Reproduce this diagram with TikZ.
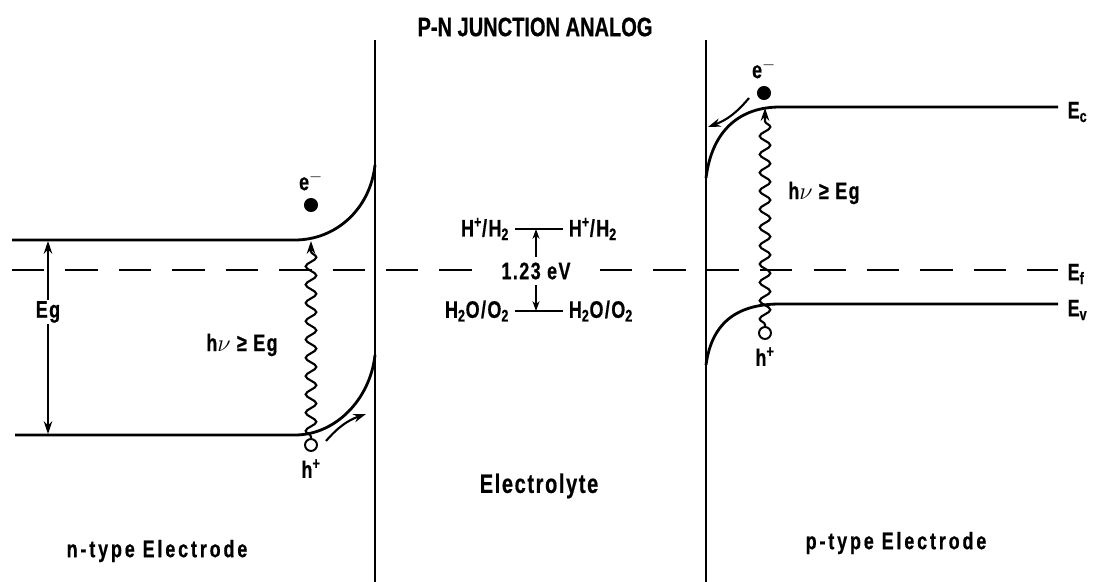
\documentclass[tikz,border=0pt]{standalone}
\usepackage{fontspec}
\setmainfont{Liberation Sans}[FakeStretch=0.75,LetterSpace=6,FakeBold=0.6]
\usepackage{tikz}
\usetikzlibrary{arrows.meta,decorations.pathmorphing,positioning}

\tikzset{
  band/.style={line width=2pt},
  wall/.style={line width=1.4pt},
  fermi/.style={line width=2pt, dash pattern=on 23pt off 15pt},
  level/.style={line width=1.6pt},
  photon/.style={line width=1.5pt, decorate,
    decoration={snake, amplitude=3.8pt, segment length=13pt, pre length=1pt, post length=7pt}},
  lbl/.style={font=\fontsize{17}{19}\selectfont\bfseries, inner sep=1pt},
  biglbl/.style={font=\fontsize{19}{21}\selectfont\bfseries, inner sep=1pt},
  tip/.style={-{Stealth[length=9pt,width=6pt]}},
  smalltip/.style={-{Stealth[length=7pt,width=5pt]}},
  elec/.style={circle, fill, inner sep=0pt, minimum size=10pt},
  hole/.style={circle, draw, line width=1.4pt, fill=white, inner sep=0pt, minimum size=8.5pt},
}

\begin{document}
\begin{tikzpicture}[x=0.025cm,y=-0.025cm]
  \useasboundingbox (0,0) rectangle (1110,582);

  \node[biglbl] (title) at (535,27) {\addfontfeatures{LetterSpace=0}P-N JUNCTION ANALOG};

  % electrode walls
  \coordinate (nwt) at (375,40);  \coordinate (nwb) at (375,582);
  \coordinate (pwt) at (706,40);  \coordinate (pwb) at (706,582);
  \draw[wall] (nwt) -- (nwb);
  \draw[wall] (pwt) -- (pwb);

  % fermi level
  \coordinate (efl) at (12,270);  \coordinate (efr) at (1058,270);
  \draw[fermi] (efl) -- (efr);

  % n-type bands
  \draw[band] (12,240) -- (295,240) .. controls (335,240) and (370,210) .. (375,165);
  \draw[band] (15,435) -- (295,435) .. controls (335,435) and (370,400) .. (375,355);

  \coordinate (egt) at (48,241);  \coordinate (egb) at (48,434);
  \node[lbl, fill=white] (eg) at (48,312) {Eg};
  \draw[tip, line width=1.2pt] (eg) -- (egt);
  \draw[tip, line width=1.2pt] (eg) -- (egb);

  \node[hole] (nh) at (311,445) {};
  \coordinate (nc) at (311,241);
  \draw[photon, tip] (nh) -- (nc);
  \node[elec] (ne) at (311,205) {};
  \node[lbl, above=4pt of ne] (nel) {e$^-$};
  \node[lbl, below=4pt of nh] (nhl) {h\textsuperscript{+}};
  \node[lbl] (nhv) at (242,345) {h$\nu$ ≥ Eg};
  \coordinate (nha) at (326,441);  \coordinate (nhb) at (366,414);
  \draw[tip, line width=1.5pt] (nha) to[bend left=15] (nhb);

  % redox levels
  \coordinate (hl) at (515,229);  \coordinate (hr) at (563,229);
  \coordinate (ol) at (515,311);  \coordinate (or) at (563,311);
  \coordinate (hm) at (536,229);  \coordinate (om) at (536,311);
  \draw[level] (hl) -- (hr);
  \draw[level] (ol) -- (or);
  \node[lbl, left=3pt of hl] (hll) {H\textsuperscript{+}/H\textsubscript{2}};
  \node[lbl, right=3pt of hr] (hrl) {H\textsuperscript{+}/H\textsubscript{2}};
  \node[lbl, left=3pt of ol] (oll) {H\textsubscript{2}O/O\textsubscript{2}};
  \node[lbl, right=3pt of or] (orl) {H\textsubscript{2}O/O\textsubscript{2}};
  \node[lbl, fill=white, inner xsep=10pt, inner ysep=4pt] (gap) at (536,271) {1.23 eV};
  \draw[smalltip, line width=1.2pt] (gap) -- (hm);
  \draw[smalltip, line width=1.2pt] (gap) -- (om);

  % p-type bands
  \draw[band] (706,178) .. controls (712,130) and (740,107) .. (780,107) -- (1058,107);
  \draw[band] (706,365) .. controls (712,320) and (740,304) .. (780,304) -- (1058,304);
  \node[lbl, anchor=west] (ec) at (1066,112) {E\textsubscript{c}};
  \node[lbl, anchor=west] (ef) at (1066,274) {E\textsubscript{f}};
  \node[lbl, anchor=west] (ev) at (1066,310) {E\textsubscript{v}};

  \node[hole] (ph) at (765,333) {};
  \coordinate (pc) at (765,108);
  \draw[photon, tip] (ph) -- (pc);
  \node[elec] (pe) at (764,93) {};
  \node[lbl, above=4pt of pe] (pel) {e$^-$};
  \node[lbl, below=4pt of ph] (phl) {h\textsuperscript{+}};
  \node[lbl] (phv) at (824,193) {h$\nu$ ≥ Eg};
  \coordinate (pea) at (749,98);  \coordinate (peb) at (708,127);
  \draw[tip, line width=1.5pt] (pea) to[bend left=15] (peb);

  \node[biglbl] (ely) at (539,486) {Electrolyte};
  \node[lbl] (nel2) at (157,551) {\addfontfeatures{LetterSpace=12}n-type Electrode};
  \node[lbl] (pel2) at (896,543) {\addfontfeatures{LetterSpace=12}p-type Electrode};
\end{tikzpicture}
\end{document}
